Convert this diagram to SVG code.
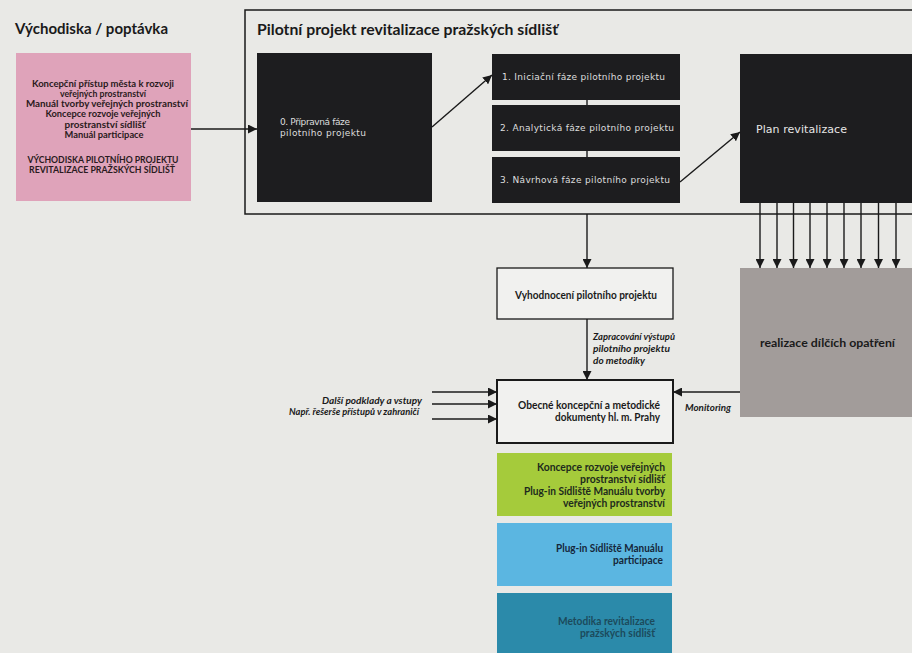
<svg xmlns="http://www.w3.org/2000/svg" width="912" height="653" viewBox="0 0 912 653">
  <defs>
    <marker id="arr" viewBox="0 0 10 10" refX="10" refY="5" markerWidth="9" markerHeight="9" markerUnits="userSpaceOnUse" orient="auto">
      <path d="M0,0 L10,5 L0,10 z" fill="#1a1a1a"/>
    </marker>
    <style>
      .bg { fill: #e9e9e6; }
      .heading { font-family: "Lato", "Liberation Sans", sans-serif; font-weight: 700; font-size: 16px; fill: #1a1a1a; }
      .pinktxt { font-family: "Lato", "Liberation Sans", sans-serif; font-weight: 700; font-size: 10px; fill: #2a1a20; text-anchor: middle; }
      .dark { fill: #1d1d1f; }
      .wtxt { font-family: "DejaVu Sans", "Liberation Sans", sans-serif; font-size: 9px; fill: #dedede; }
      .plantxt { font-family: "DejaVu Sans", "Liberation Sans", sans-serif; font-size: 11px; fill: #e6e6e6; }
      .btxt { font-family: "Lato", "Liberation Sans", sans-serif; font-weight: 700; font-size: 11px; fill: #1a1a1a; }
      .itxt { font-family: "Lato", "Liberation Sans", sans-serif; font-weight: 700; font-style: italic; font-size: 9.5px; fill: #1a1a1a; }
      .rtxt { font-family: "Lato", "Liberation Sans", sans-serif; font-weight: 700; font-size: 10.5px; fill: #1d2a1d; text-anchor: end; }
      .conn { stroke: #1a1a1a; stroke-width: 1.4; fill: none; }
      .connA { stroke: #1a1a1a; stroke-width: 1.4; fill: none; marker-end: url(#arr); }
    </style>
  </defs>

  <rect class="bg" x="0" y="0" width="912" height="653"/>

  <!-- Frame of pilot project -->
  <g id="frame">
    <rect x="245" y="10" width="700" height="204" fill="none" stroke="#1a1a1a" stroke-width="1.5"/>
    <text class="heading" x="257" y="35" textLength="301" lengthAdjust="spacingAndGlyphs">Pilotní projekt revitalizace pražských sídlišť</text>
  </g>

  <g id="vychodiska">
    <text class="heading" x="15" y="34" textLength="153" lengthAdjust="spacingAndGlyphs">Východiska / poptávka</text>
    <rect x="16" y="53" width="175" height="148" fill="#dfa3ba"/>
    <text class="pinktxt" x="103" y="86.5" textLength="142" lengthAdjust="spacingAndGlyphs">Koncepční přístup města k rozvoji</text>
    <text class="pinktxt" x="103" y="96.8" textLength="86" lengthAdjust="spacingAndGlyphs">veřejných prostranství</text>
    <text class="pinktxt" x="107" y="107.1" textLength="162" lengthAdjust="spacingAndGlyphs">Manuál tvorby veřejných prostranství</text>
    <text class="pinktxt" x="103" y="117.4" textLength="115" lengthAdjust="spacingAndGlyphs">Koncepce rozvoje veřejných</text>
    <text class="pinktxt" x="105" y="127.7" textLength="81" lengthAdjust="spacingAndGlyphs">prostranství sídlišť</text>
    <text class="pinktxt" x="104" y="138" textLength="79" lengthAdjust="spacingAndGlyphs">Manuál participace</text>
    <text class="pinktxt" x="103" y="162.5" textLength="151" lengthAdjust="spacingAndGlyphs">VÝCHODISKA PILOTNÍHO PROJEKTU</text>
    <text class="pinktxt" x="102" y="172.8" textLength="146" lengthAdjust="spacingAndGlyphs">REVITALIZACE PRAŽSKÝCH SÍDLIŠŤ</text>
  </g>

  <g id="faze0">
    <rect class="dark" x="257" y="53" width="175" height="149"/>
    <text class="wtxt" x="280" y="125" textLength="70" lengthAdjust="spacing">0. Přípravná fáze</text>
    <text class="wtxt" x="280" y="136" textLength="86" lengthAdjust="spacing">pilotního projektu</text>
  </g>

  <g id="faze1">
    <rect class="dark" x="492" y="54" width="188" height="46"/>
    <text class="wtxt" x="502" y="80" textLength="163" lengthAdjust="spacing">1. Iniciační fáze pilotního projektu</text>
  </g>
  <g id="faze2">
    <rect class="dark" x="492" y="105" width="188" height="46"/>
    <text class="wtxt" x="500" y="131" textLength="174" lengthAdjust="spacing">2. Analytická fáze pilotního projektu</text>
  </g>
  <g id="faze3">
    <rect class="dark" x="492" y="157" width="188" height="46"/>
    <text class="wtxt" x="500" y="183" textLength="170" lengthAdjust="spacing">3. Návrhová fáze pilotního projektu</text>
  </g>

  <g id="plan">
    <rect class="dark" x="740" y="54" width="172" height="149"/>
    <text class="plantxt" x="756" y="133" textLength="91" lengthAdjust="spacing">Plan revitalizace</text>
  </g>

  <g id="realizace">
    <rect x="740" y="268" width="172" height="149" fill="#a29c9a"/>
    <text class="btxt" x="760" y="347" textLength="135" lengthAdjust="spacingAndGlyphs">realizace dílčích opatření</text>
  </g>

  <g id="vyhodnoceni">
    <rect x="497" y="268" width="176" height="51" fill="#f1f1ef" stroke="#1a1a1a" stroke-width="1.3"/>
    <text class="btxt" x="515" y="298.5" textLength="142" lengthAdjust="spacingAndGlyphs">Vyhodnocení pilotního projektu</text>
  </g>

  <g id="obecne">
    <rect x="497" y="380" width="176" height="63" fill="#f1f1ef" stroke="#1a1a1a" stroke-width="2"/>
    <text class="btxt" x="660" y="408.5" text-anchor="end" textLength="142" lengthAdjust="spacingAndGlyphs">Obecné koncepční a metodické</text>
    <text class="btxt" x="660" y="420.5" text-anchor="end" textLength="105" lengthAdjust="spacingAndGlyphs">dokumenty hl. m. Prahy</text>
  </g>

  <g id="koncepce">
    <rect x="497" y="453" width="175" height="63" fill="#a5cb3b"/>
    <text class="rtxt" x="665" y="470.5" textLength="128" lengthAdjust="spacingAndGlyphs">Koncepce rozvoje veřejných</text>
    <text class="rtxt" x="665" y="482.5" textLength="85" lengthAdjust="spacingAndGlyphs">prostranství sídlišť</text>
    <text class="rtxt" x="665" y="494.5" textLength="141" lengthAdjust="spacingAndGlyphs">Plug-in Sídliště Manuálu tvorby</text>
    <text class="rtxt" x="665" y="506.5" textLength="102" lengthAdjust="spacingAndGlyphs">veřejných prostranství</text>
  </g>

  <g id="plugin">
    <rect x="497" y="523" width="175" height="63" fill="#5bb6e1"/>
    <text class="rtxt" x="663" y="552" style="fill:#15263a" textLength="107" lengthAdjust="spacingAndGlyphs">Plug-in Sídliště Manuálu</text>
    <text class="rtxt" x="663" y="564" style="fill:#15263a" textLength="50" lengthAdjust="spacingAndGlyphs">participace</text>
  </g>

  <g id="metodika">
    <rect x="497" y="593" width="175" height="60" fill="#2b8aaa"/>
    <text class="rtxt" x="655" y="625" style="fill:#1c4a5c" textLength="97" lengthAdjust="spacingAndGlyphs">Metodika revitalizace</text>
    <text class="rtxt" x="655" y="636.5" style="fill:#1c4a5c" textLength="75" lengthAdjust="spacingAndGlyphs">pražských sídlišť</text>
  </g>

  <g id="labels">
    <text class="itxt" x="593" y="340" textLength="82" lengthAdjust="spacingAndGlyphs">Zapracování výstupů</text>
    <text class="itxt" x="593" y="352" textLength="77" lengthAdjust="spacingAndGlyphs">pilotního projektu</text>
    <text class="itxt" x="593" y="364" textLength="52" lengthAdjust="spacingAndGlyphs">do metodiky</text>
    <text class="itxt" x="422" y="404" text-anchor="end" textLength="100" lengthAdjust="spacingAndGlyphs">Další podklady a vstupy</text>
    <text class="itxt" x="419" y="414.5" text-anchor="end" textLength="130" lengthAdjust="spacingAndGlyphs">Např. řešerše přístupů v zahraničí</text>
    <text class="itxt" x="685" y="410.5" textLength="46" lengthAdjust="spacingAndGlyphs">Monitoring</text>
  </g>

  <g id="connectors">
    <line class="connA" x1="191" y1="129" x2="257" y2="129"/>
    <line class="connA" x1="432" y1="127" x2="492" y2="75"/>
    <line class="conn" x1="587" y1="100" x2="587" y2="105" stroke-width="2"/>
    <line class="conn" x1="587" y1="151" x2="587" y2="157" stroke-width="2"/>
    <line class="connA" x1="680" y1="182" x2="740" y2="132"/>
    <line class="connA" x1="760" y1="203" x2="760" y2="268"/>
    <line class="connA" x1="777" y1="203" x2="777" y2="268"/>
    <line class="connA" x1="793.5" y1="203" x2="793.5" y2="268"/>
    <line class="connA" x1="810" y1="203" x2="810" y2="268"/>
    <line class="connA" x1="827" y1="203" x2="827" y2="268"/>
    <line class="connA" x1="844" y1="203" x2="844" y2="268"/>
    <line class="connA" x1="861" y1="203" x2="861" y2="268"/>
    <line class="connA" x1="878.5" y1="203" x2="878.5" y2="268"/>
    <line class="connA" x1="896" y1="203" x2="896" y2="268"/>
    <line class="connA" x1="587" y1="214" x2="587" y2="268"/>
    <line class="connA" x1="587" y1="319" x2="587" y2="380"/>
    <line class="connA" x1="432" y1="392" x2="497" y2="392"/>
    <line class="connA" x1="432" y1="404" x2="497" y2="404"/>
    <line class="connA" x1="432" y1="419" x2="497" y2="419"/>
    <line class="connA" x1="740" y1="392" x2="673" y2="392"/>
  </g>
</svg>
